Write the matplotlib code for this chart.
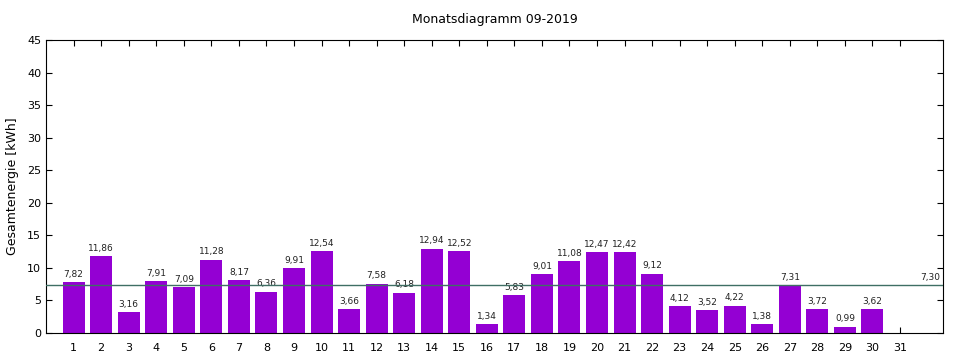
import matplotlib.pyplot as plt
import numpy as np

days = list(range(1, 32))
energy = [7.82, 11.86, 3.16, 7.91, 7.09, 11.28, 8.17, 6.36, 9.91, 12.54,
          3.66, 7.58, 6.18, 12.94, 12.52, 1.34, 5.83, 9.01, 11.08, 12.47,
          12.42, 9.12, 4.12, 3.52, 4.22, 1.38, 7.31, 3.72, 0.99, 3.62]
average = 7.30

fig = plt.figure(figsize=(9.6, 3.6), dpi=100)
ax = fig.add_axes([0.048, 0.075, 0.934, 0.814])

x = np.arange(1, len(energy) + 1)
ax.bar(x, energy, width=0.8, color='#9400d3', zorder=2)
for xi, v in zip(x, energy):
    ax.text(xi, v + 0.5, ('%.2f' % v).replace('.', ','), ha='center', va='bottom',
            fontsize=6.5, color='#222222')

ax.axhline(average, color='#3f6f64', lw=1, zorder=3)
ax.text(32.45, average + 0.5, ('%.2f' % average).replace('.', ','), ha='right',
        va='bottom', fontsize=6.5, color='#222222')

ax.set_xlim(0, 32.55)
ax.set_ylim(0, 45)
ax.set_xticks(days)
ax.set_yticks(np.arange(0, 46, 5))
ax.tick_params(direction='in', top=True, right=True, labelsize=8, length=4, width=0.8)
ax.tick_params(axis='x', pad=7)
for s in ax.spines.values():
    s.set_linewidth(0.8)

ax.set_ylabel('Gesamtenergie [kWh]', fontsize=9, labelpad=6)
ax.set_title('Monatsdiagramm 09-2019', fontsize=9, pad=12)

fig.savefig('out.png', dpi=100)
